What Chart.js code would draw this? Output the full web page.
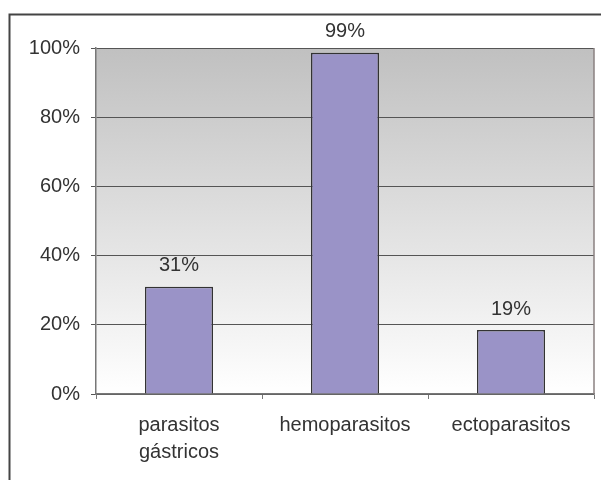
<!DOCTYPE html>
<html>
<head>
<meta charset="utf-8">
<script src="https://cdn.jsdelivr.net/npm/chart.js@4/dist/chart.umd.min.js"></script>
<style>
  html, body { margin: 0; padding: 0; background: #ffffff; }
  #wrap { position: relative; width: 601px; height: 480px; }
</style>
</head>
<body>
<div id="wrap"><canvas id="c" width="601" height="480"></canvas></div>
<script>
const categories = ['parasitos gástricos', 'hemoparasitos', 'ectoparasitos'];
const values = [31, 98.6, 18.5];
const dataLabels = ['31%', '99%', '19%'];
const yTicks = [0, 20, 40, 60, 80, 100];

const FONT = '"Liberation Sans", Arial, sans-serif';
const TEXT = '#333333';

const decor = {
  id: 'decor',
  beforeDraw(chart) {
    const { ctx, chartArea: a } = chart;
    ctx.save();
    const g = ctx.createLinearGradient(0, a.top, 0, a.bottom);
    g.addColorStop(0, '#c0c0c0');
    g.addColorStop(1, '#ffffff');
    ctx.fillStyle = g;
    ctx.fillRect(a.left, a.top, a.right - a.left, a.bottom - a.top);
    ctx.restore();
  },
  afterDatasetsDraw(chart) {
    const { ctx, chartArea: a } = chart;
    ctx.save();
    // right border of plot area
    ctx.strokeStyle = '#8a8080';
    ctx.lineWidth = 1.5;
    ctx.beginPath();
    ctx.moveTo(a.right, a.top);
    ctx.lineTo(a.right, a.bottom);
    ctx.stroke();
    // data labels
    ctx.fillStyle = TEXT;
    ctx.font = '20px ' + FONT;
    ctx.textAlign = 'center';
    ctx.textBaseline = 'middle';
    const meta = chart.getDatasetMeta(0);
    meta.data.forEach((bar, i) => {
      ctx.fillText(dataLabels[i], bar.x, bar.y - 21);
    });
    // outer frame
    ctx.strokeStyle = '#444444';
    ctx.lineWidth = 2;
    ctx.beginPath();
    ctx.moveTo(9.5, 480);
    ctx.lineTo(9.5, 14.5);
    ctx.lineTo(601, 14.5);
    ctx.stroke();
    ctx.restore();
  }
};

new Chart(document.getElementById('c'), {
  type: 'bar',
  data: {
    labels: categories,
    datasets: [{
      data: values,
      backgroundColor: '#9a93c7',
      borderColor: '#333333',
      borderWidth: 1.5,
      barPercentage: 0.41,
      categoryPercentage: 1.0
    }]
  },
  options: {
    responsive: false,
    animation: false,
    devicePixelRatio: 1,
    layout: { padding: { left: 0, top: 48, right: 7, bottom: 0 } },
    plugins: { legend: { display: false }, tooltip: { enabled: false } },
    scales: {
      x: {
        afterFit(s) { s.height = 86; },
        grid: { drawOnChartArea: false, drawTicks: true, tickLength: 5, color: '#777777', offset: true },
        border: { display: true, color: '#777777', width: 1.5 },
        ticks: {
          color: TEXT,
          padding: 13,
          font: { family: FONT, size: 20, lineHeight: 1.35 },
          maxRotation: 0,
          callback(v, i) { return categories[i].split(' '); }
        }
      },
      y: {
        min: 0, max: 100,
        afterFit(s) { s.width = 96; },
        afterBuildTicks(s) { s.ticks = yTicks.map(v => ({ value: v })); },
        grid: { color: '#555555', lineWidth: 1, tickLength: 5, drawTicks: true },
        border: { display: true, color: '#777777', width: 1.5 },
        ticks: {
          color: TEXT,
          padding: 11,
          font: { family: FONT, size: 20 },
          callback(v) { return v + '%'; }
        }
      }
    }
  },
  plugins: [decor]
});
</script>
</body>
</html>
